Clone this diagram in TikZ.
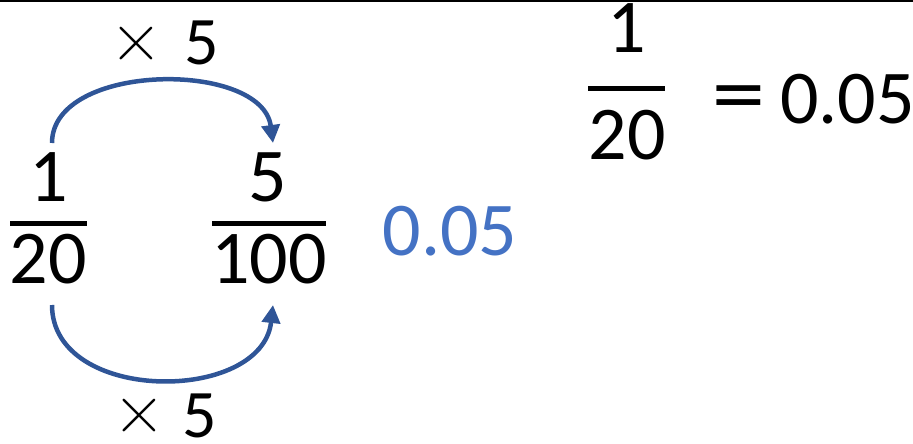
\documentclass[tikz,border=0pt]{standalone}
\usepackage{fontspec}
\setmainfont{Carlito}
\newfontfamily\symfont{DejaVu Sans}
\newfontfamily\lmfont{Latin Modern Roman}
\usetikzlibrary{arrows.meta}
\definecolor{arcblue}{HTML}{2F5597}
\definecolor{numblue}{HTML}{4472C4}
\tikzset{
  big/.style={font=\fontsize{76}{76}\selectfont, inner sep=0pt, anchor=base},
  mid/.style={font=\fontsize{68}{68}\selectfont, inner sep=0pt, anchor=base},
  timesmark/.style={font=\lmfont\fontsize{72}{72}\selectfont, inner sep=0pt, anchor=center},
  eqmark/.style={font=\symfont\fontsize{70}{70}\selectfont, inner sep=0pt, anchor=center},
  bar/.style={line width=5pt},
  arc/.style={draw=arcblue, line width=4.5pt, -{Triangle[length=18pt,width=18pt]}},
}
\begin{document}
\begin{tikzpicture}[x=1pt,y=-1pt]
\useasboundingbox (0,0) rectangle (913,444);
\draw[line width=2.5pt] (0,1.25) -- (913,1.25);
% left fraction 1/20
\node[big] (n1) at (49,201) {1};
\node[big] (d1) at (48.5,283) {20};
\draw[bar] (10,223) -- (87,223);
% 5/100
\node[big] (n2) at (267.5,201) {5};
\node[big] (d2) at (269,283) {100};
\draw[bar] (212,223) -- (326,223);
% arcs
\coordinate (a1) at (52,143);
\coordinate (a2) at (273,143);
\coordinate (b1) at (52,305);
\coordinate (b2) at (273,305);
\draw[arc] (a1) .. controls (52,62) and (262,60) .. (a2);
\draw[arc] (b1) .. controls (52,404) and (262,404) .. (b2);
\node[timesmark] (x1) at (136,44) {×};
\node[mid] (f1) at (201.5,65) {5};
\node[timesmark] (x2) at (139,416) {×};
\node[mid] (f2) at (200,437) {5};
% blue
\node[big, text=numblue] (v) at (450,255) {0.05};
% right
\node[big] (n3) at (627,53) {1};
\node[big] (d3) at (627,159) {20};
\draw[bar] (588,88) -- (665,88);
\node[eqmark] (eq) at (738.5,102) {=};
\node[big] (r) at (847.5,123) {0.05};
\end{tikzpicture}
\end{document}
